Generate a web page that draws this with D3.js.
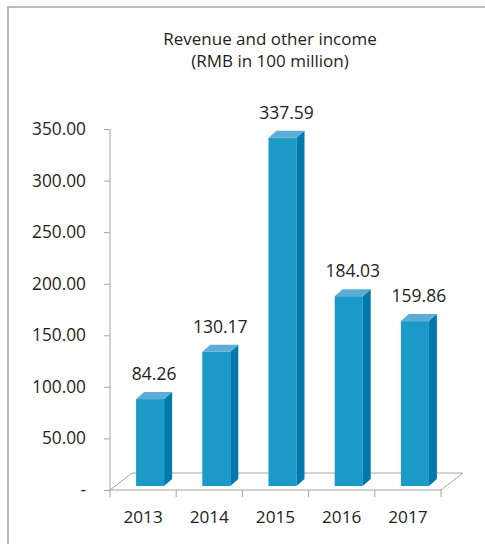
<!DOCTYPE html>
<html><head><meta charset="utf-8">
<script src="https://cdn.jsdelivr.net/npm/d3@7/dist/d3.min.js"></script>
<style>body{margin:0;background:#fff}svg{display:block}text{font-family:"Open Sans",sans-serif;fill:#231f20}</style>
</head><body><svg id="c" width="485" height="544"></svg>
<script>
const categories = ["2013","2014","2015","2016","2017"];
const values = [84.26,130.17,337.59,184.03,159.86];
const valueLabels = ["84.26","130.17","337.59","184.03","159.86"];
const yTicks = [0,50,100,150,200,250,300,350];
const yTickLabels = ["-","50.00","100.00","150.00","200.00","250.00","300.00","350.00"];
const titleLines = ["Revenue and other income","(RMB in 100 million)"];

const svg = d3.select("#c");
const x = d3.scaleBand().domain(categories).range([110,441]);
const y = d3.scaleLinear().domain([0,350]).range([490,129]);
const gray = "#a6a6a6";

// frame (top and left)
svg.append("path").attr("d","M8,544 V7 H485").attr("fill","none").attr("stroke","#a8a8a8").attr("stroke-width",1.6);

// title
svg.append("g").selectAll("text").data(titleLines).join("text")
  .attr("x",270).attr("y",(d,i)=>45+i*22).attr("text-anchor","middle")
  .attr("font-size",17).text(d=>d);

// floor
const dX=22, dY=-17;
svg.append("path").attr("d",`M${x.range()[0]},${y(0)} L${x.range()[0]+dX},${y(0)+dY} H${x.range()[1]+dX} L${x.range()[1]},${y(0)} Z`)
  .attr("fill","none").attr("stroke",gray).attr("stroke-width",1);

// y axis
const yAxis = d3.axisLeft(y).tickValues(yTicks).tickFormat((d,i)=>yTickLabels[i]).tickSize(6).tickPadding(18);
const ga = svg.append("g").attr("transform","translate(110,0)").call(yAxis);
ga.select(".domain").attr("stroke",gray).attr("d","M0,"+y(350)+"V"+y(0));
ga.selectAll(".tick line").attr("stroke",gray);
ga.selectAll(".tick text").attr("font-size",17.3).attr("font-family","Open Sans").attr("fill","#231f20");

// x axis ticks
const bounds = categories.map(c=>x(c)).concat([x.range()[1]]);
svg.append("g").selectAll("line").data(bounds).join("line")
  .attr("x1",d=>d).attr("x2",d=>d).attr("y1",y(0)).attr("y2",y(0)+7).attr("stroke",gray);
svg.append("g").selectAll("text").data(categories).join("text")
  .attr("x",d=>x(d)+x.bandwidth()/2).attr("y",523).attr("text-anchor","middle").attr("font-size",17.2).text(d=>d);

// bars
const bw=28, bdx=8, bdy=-7, shift=-4;
const g = svg.append("g");
categories.forEach((c,i)=>{
  const x0 = x(c)+x.bandwidth()/2-7;
  const yb = y(0)+shift, yt = y(values[i])+shift;
  g.append("rect").attr("x",x0).attr("y",yt).attr("width",bw).attr("height",yb-yt).attr("fill","#1b9ac7");
  g.append("path").attr("d",`M${x0+bw},${yt} L${x0+bw+bdx},${yt+bdy} V${yb+bdy} L${x0+bw},${yb} Z`).attr("fill","#0079ae");
  g.append("path").attr("d",`M${x0},${yt} L${x0+bdx},${yt+bdy} H${x0+bw+bdx} L${x0+bw},${yt} Z`).attr("fill","#5dacd5");
  g.append("text").attr("x",x0+(bw+bdx)/2).attr("y",yt+bdy-12).attr("text-anchor","middle").attr("font-size",17.5).text(valueLabels[i]);
});
</script></body></html>
